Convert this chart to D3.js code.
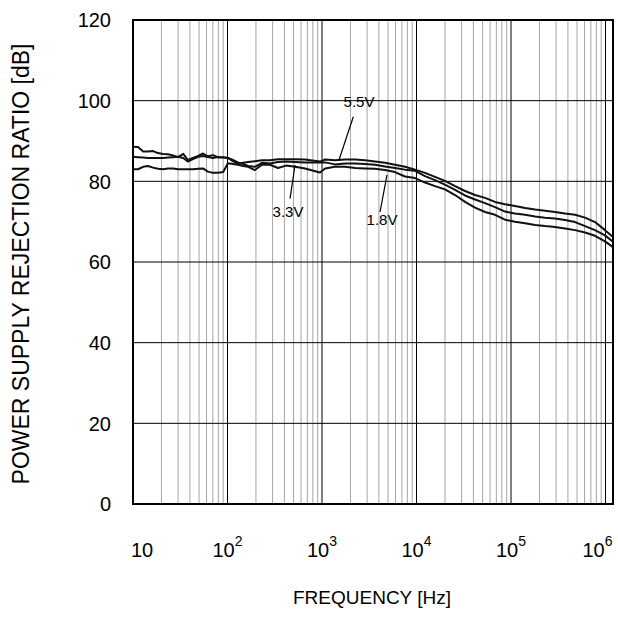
<!DOCTYPE html>
<html>
<head>
<meta charset="utf-8">
<script src="https://cdn.jsdelivr.net/npm/d3@7"></script>
<style>
  body { margin: 0; background: #fff; }
  svg { display: block; font-family: "Liberation Sans", Arial, sans-serif; }
</style>
</head>
<body>
<svg></svg>
<script>

const freq = [10, 11.3, 12.8, 14.4, 16.3, 18.4, 20.8, 23.5, 26.5, 30, 34, 38, 43, 49, 55, 62, 70, 79, 90, 101,
              114, 129, 146, 165, 195, 232, 282, 342, 416, 518, 661, 950, 1080, 1370, 1750, 2240, 2850, 3640,
              4640, 5920, 7560, 9640, 12300, 15700, 20000, 25600, 32600, 41600, 53100, 67700, 86400, 110000,
              141000, 180000, 229000, 292000, 373000, 476000, 607000, 774000, 988000, 1200000];

const psrr55 = [88.6, 88.5, 87.4, 87.4, 87.5, 87.0, 86.8, 86.7, 86.4, 86.0, 86.8, 85.3, 85.8, 86.3, 86.9, 86.2, 86.5,
                86.0, 86.0, 85.8, 85.0, 84.3, 84.6, 84.8, 85.0, 85.2, 85.2, 85.5, 85.5, 85.5, 85.4, 84.9, 85.4,
                85.2, 85.4, 85.4, 85.2, 84.9, 84.6, 84.1, 83.6, 82.9, 82.1, 81.1, 80.1, 78.8, 77.6, 76.6, 75.9,
                74.9, 74.3, 73.9, 73.4, 73.0, 72.7, 72.4, 72.0, 71.7, 71.0, 69.9, 67.9, 66.2];

const psrr33 = [86.1, 86.0, 85.9, 85.8, 85.8, 85.8, 85.8, 85.9, 86.0, 86.1, 85.8, 84.9, 85.5, 86.1, 86.3, 86.0, 85.8,
                86.0, 85.9, 85.8, 85.3, 84.7, 84.3, 83.8, 83.6, 84.6, 84.4, 84.8, 84.9, 84.8, 84.7, 84.7, 84.7,
                84.2, 84.4, 84.4, 84.3, 84.1, 83.7, 83.3, 82.9, 82.6, 81.3, 80.3, 79.2, 77.9, 76.5, 75.5, 74.6,
                73.6, 72.5, 72.0, 71.7, 71.3, 71.0, 70.8, 70.4, 69.9, 68.9, 67.9, 66.6, 65.0];

const psrr18 = [83.0, 83.0, 83.6, 83.8, 83.4, 83.1, 83.0, 83.2, 83.2, 83.0, 83.0, 83.0, 83.0, 83.1, 83.2, 82.4, 82.1,
                82.1, 82.3, 84.5, 84.3, 84.1, 83.8, 83.6, 82.8, 84.1, 84.1, 83.3, 83.9, 83.6, 83.2, 82.2, 83.2,
                83.6, 83.6, 83.3, 83.2, 83.1, 82.8, 82.3, 81.2, 80.8, 79.7, 78.8, 78.0, 76.6, 74.9, 73.5, 72.4,
                71.7, 70.5, 70.0, 69.6, 69.2, 68.9, 68.7, 68.3, 67.9, 67.3, 66.5, 65.1, 63.7];

const yTicks = [0, 20, 40, 60, 80, 100, 120];
const xDecades = [10, 100, 1000, 10000, 100000, 1000000];
const xExponents = ['', '2', '3', '4', '5', '6'];

// annotations: label text, label point, leader from / to (freq, dB)
const annoText = ['5.5V', '3.3V', '1.8V'];
const annoAt = [[2464, 98.4], [437, 71.2], [4314, 69.2]];
const leaderFrom = [[2144, 96.0], [459, 75.7], [4110, 72.4]];
const leaderTo = [[1513, 85.3], [518, 84.05], [4873, 81.6]];

const W = 618, H = 634;
const margin = {top: 20, right: 5, bottom: 130, left: 133};
const width = W - margin.left - margin.right,
      height = H - margin.top - margin.bottom;

const svg = d3.select('svg')
    .attr('width', W)
    .attr('height', H)
  .append('g')
    .attr('transform', `translate(${margin.left},${margin.top})`);

//--------------SCALES---------------------------------------
const xScale = d3.scaleLog()
                 .domain([10, 1.2e6])
                 .range([0, width]);

const yScale = d3.scaleLinear()
                 .domain([0, 120])
                 .range([height, 0]);

//--------------GRID-----------------------------------------
let minor = [];
xDecades.forEach(d => {
  for (let m = 2; m <= 9; m++) if (d * m < 1.2e6) minor.push(d * m);
});

svg.append('g').selectAll('line')
   .data(minor)
   .enter().append('line')
   .attr('x1', d => xScale(d)).attr('x2', d => xScale(d))
   .attr('y1', 0).attr('y2', height)
   .attr('stroke', '#a6a6a6')
   .attr('stroke-width', 1);

svg.append('g').selectAll('line')
   .data(xDecades.slice(1))
   .enter().append('line')
   .attr('x1', d => xScale(d)).attr('x2', d => xScale(d))
   .attr('y1', 0).attr('y2', height)
   .attr('stroke', '#000')
   .attr('stroke-width', 1);

svg.append('g').selectAll('line')
   .data(yTicks.slice(1, -1))
   .enter().append('line')
   .attr('x1', 0).attr('x2', width)
   .attr('y1', d => yScale(d)).attr('y2', d => yScale(d))
   .attr('stroke', '#000')
   .attr('stroke-width', 1);

//--------------CURVES---------------------------------------
const line = d3.line()
               .x((d, i) => xScale(freq[i]))
               .y(d => yScale(d));

[psrr55, psrr33, psrr18].forEach(s => {
  svg.append('path')
     .datum(s)
     .attr('fill', 'none')
     .attr('stroke', '#111')
     .attr('stroke-width', 2)
     .attr('stroke-linejoin', 'round')
     .attr('d', line);
});

//--------------FRAME----------------------------------------
svg.append('rect')
   .attr('x', 0).attr('y', 0)
   .attr('width', width).attr('height', height)
   .attr('fill', 'none')
   .attr('stroke', '#000')
   .attr('stroke-width', 2);

//--------------TICK LABELS----------------------------------
svg.append('g').selectAll('text')
   .data(yTicks)
   .enter().append('text')
   .attr('x', -22)
   .attr('y', d => yScale(d))
   .attr('dy', '0.36em')
   .attr('text-anchor', 'end')
   .attr('font-size', 20)
   .text(d => d);

const xl = svg.append('g').selectAll('text')
   .data(xDecades)
   .enter().append('text')
   .attr('x', d => xScale(d))
   .attr('dx', (d, i) => i == 0 ? 9 : (i == xDecades.length - 1 ? -8 : 0))
   .attr('y', height + 53)
   .attr('text-anchor', 'middle')
   .attr('font-size', 20);
xl.append('tspan').text('10');
xl.append('tspan')
  .attr('dy', -11)
  .attr('font-size', 14)
  .text((d, i) => xExponents[i]);

//--------------ANNOTATIONS----------------------------------
svg.append('g').selectAll('line')
   .data(annoText)
   .enter().append('line')
   .attr('x1', (d, i) => xScale(leaderFrom[i][0]))
   .attr('y1', (d, i) => yScale(leaderFrom[i][1]))
   .attr('x2', (d, i) => xScale(leaderTo[i][0]))
   .attr('y2', (d, i) => yScale(leaderTo[i][1]))
   .attr('stroke', '#000')
   .attr('stroke-width', 1.2);

svg.append('g').selectAll('text')
   .data(annoText)
   .enter().append('text')
   .attr('x', (d, i) => xScale(annoAt[i][0]))
   .attr('y', (d, i) => yScale(annoAt[i][1]))
   .attr('text-anchor', 'middle')
   .attr('font-size', 15)
   .text(d => d);

//--------------AXIS TITLES----------------------------------
svg.append('text')
   .attr('x', 372 - margin.left)
   .attr('y', 604 - margin.top)
   .attr('text-anchor', 'middle')
   .attr('font-size', 19)
   .text('FREQUENCY [Hz]');

svg.append('text')
   .attr('transform', `translate(${29 - margin.left},${264 - margin.top}) rotate(-90)`)
   .attr('text-anchor', 'middle')
   .attr('font-size', 23)
   .text('POWER SUPPLY REJECTION RATIO [dB]');

</script>
</body>
</html>
